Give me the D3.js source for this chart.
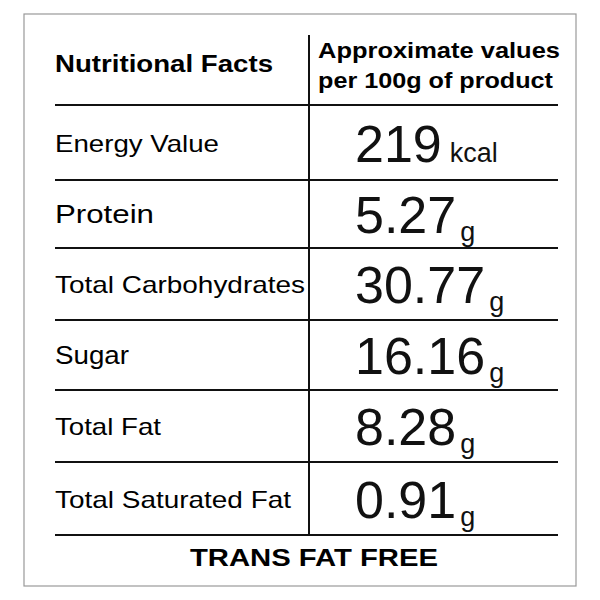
<!DOCTYPE html>
<html><head><meta charset="utf-8">
<script src="https://cdn.jsdelivr.net/npm/d3@7"></script>
<style>body{margin:0;background:#fff}</style>
</head><body>
<svg id="svg1"></svg>
<script>
const width = 600, height = 600;
const svg = d3.select("#svg1").attr("width", width).attr("height", height);

const nutrients = ["Energy Value", "Protein", "Total Carbohydrates", "Sugar", "Total Fat", "Total Saturated Fat"];
const amounts = ["219", "5.27", "30.77", "16.16", "8.28", "0.91"];
const units = ["kcal", "g", "g", "g", "g", "g"];
const rowEdges = [105, 180, 248, 320, 390, 462, 535];
// label widths as they appear in the picture
const labelWidths = [164, 99, 250, 74, 106, 236];

const font = "Liberation Sans, Arial, sans-serif";

svg.append("rect").attr("x", 24).attr("y", 14).attr("width", 552).attr("height", 572)
    .attr("fill", "none").attr("stroke", "#999").attr("stroke-width", 1.2);

svg.selectAll("line.row").data(rowEdges).enter().append("line")
    .attr("x1", 55).attr("x2", 558)
    .attr("y1", d => d).attr("y2", d => d)
    .attr("stroke", "#111").attr("stroke-width", 2);

svg.append("line").attr("x1", 309).attr("x2", 309).attr("y1", 35).attr("y2", 535)
    .attr("stroke", "#111").attr("stroke-width", 2);

svg.append("text").attr("x", 55).attr("y", 72).text("Nutritional Facts")
    .attr("font-family", font).attr("font-weight", "bold").attr("font-size", 23)
    .attr("textLength", 218).attr("lengthAdjust", "spacingAndGlyphs");
svg.append("text").attr("x", 318).attr("y", 58).text("Approximate values")
    .attr("font-family", font).attr("font-weight", "bold").attr("font-size", 22)
    .attr("textLength", 242).attr("lengthAdjust", "spacingAndGlyphs");
svg.append("text").attr("x", 318).attr("y", 88).text("per 100g of product")
    .attr("font-family", font).attr("font-weight", "bold").attr("font-size", 22)
    .attr("textLength", 235).attr("lengthAdjust", "spacingAndGlyphs");

const rows = svg.append("g").selectAll("g").data(nutrients).enter().append("g")
    .attr("transform", (d, i) => `translate(0,${(rowEdges[i] + rowEdges[i + 1]) / 2})`);

rows.append("text").attr("x", 55).attr("y", 9).text(d => d)
    .attr("font-family", font).attr("font-size", (d, i) => i === 1 || i === 3 ? 26 : 24)
    .attr("textLength", (d, i) => labelWidths[i]).attr("lengthAdjust", "spacingAndGlyphs");

const val = rows.append("text").attr("x", 355).attr("y", 19)
    .attr("font-family", font).attr("fill", "#111");
val.append("tspan").attr("font-size", 52).text((d, i) => amounts[i]);
val.append("tspan").attr("font-size", 27).attr("dx", (d, i) => i === 0 ? 8 : 4)
    .attr("dy", (d, i) => i === 0 ? 0 : 8).text((d, i) => units[i]);

svg.append("text").attr("x", 190).attr("y", 566)
    .text("TRANS FAT FREE").attr("font-family", font).attr("font-weight", "bold").attr("font-size", 24)
    .attr("textLength", 248).attr("lengthAdjust", "spacingAndGlyphs");
</script>
</body></html>
